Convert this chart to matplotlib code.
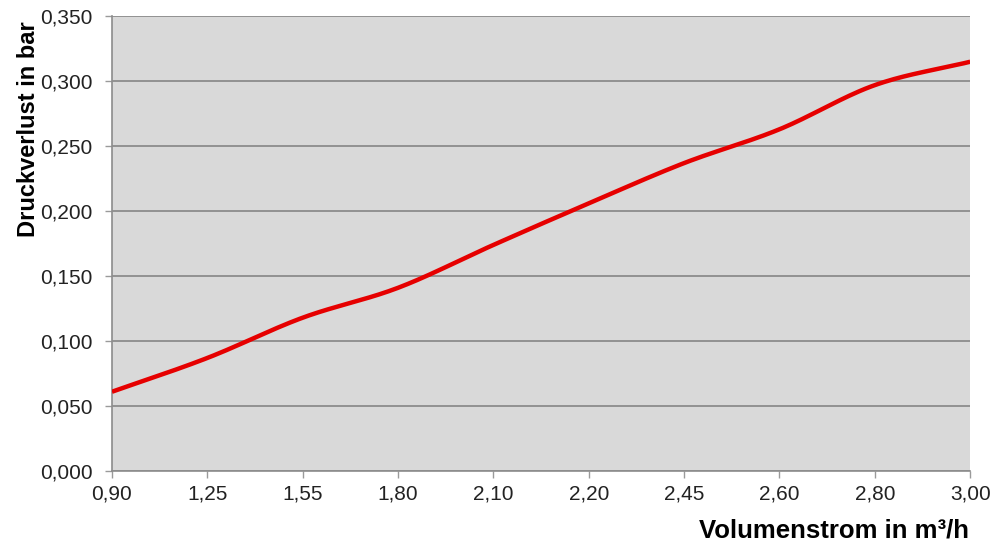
import numpy as np
import matplotlib
matplotlib.use("Agg")
from matplotlib import pyplot as plt

# Daten aus dem Diagramm (Volumenstrom als Kategorien)
kategorien = ["0,90", "1,25", "1,55", "1,80", "2,10", "2,20", "2,45", "2,60", "2,80", "3,00"]
druckverlust = [0.061, 0.087, 0.118, 0.141, 0.174, 0.206, 0.237, 0.263, 0.297, 0.315]
y_ticks = [0.0, 0.05, 0.10, 0.15, 0.20, 0.25, 0.30, 0.35]


def glatt(x, y, n=30):
    # Catmull-Rom Kurve wie die geglaettete Linie in Excel
    x = np.asarray(x, float)
    y = np.asarray(y, float)
    px = np.concatenate([[2 * x[0] - x[1]], x, [2 * x[-1] - x[-2]]])
    py = np.concatenate([[2 * y[0] - y[1]], y, [2 * y[-1] - y[-2]]])
    xs, ys = [], []
    t = np.linspace(0, 1, n, endpoint=False)
    for i in range(1, len(px) - 2):
        for p, out in ((px, xs), (py, ys)):
            p0, p1, p2, p3 = p[i - 1], p[i], p[i + 1], p[i + 2]
            out.extend(0.5 * (2 * p1 + (-p0 + p2) * t + (2 * p0 - 5 * p1 + 4 * p2 - p3) * t ** 2
                              + (-p0 + 3 * p1 - 3 * p2 + p3) * t ** 3))
    xs.append(x[-1])
    ys.append(y[-1])
    return np.array(xs), np.array(ys)


plt.rcParams["font.family"] = ["Liberation Sans", "DejaVu Sans"]

fig = plt.figure(figsize=(9.91, 5.42), dpi=100)
ax = fig.add_axes([0.113, 0.131, 0.866, 0.839])
ax.set_facecolor("#d9d9d9")

xpos = np.arange(len(kategorien))
gx, gy = glatt(xpos, druckverlust)
ax.plot(gx, gy, color="#e60000", lw=3.2, solid_capstyle="butt", zorder=3)

ax.set_xlim(0, len(kategorien) - 1)
ax.set_ylim(0, 0.35)
ax.set_xticks(xpos)
ax.set_xticklabels(kategorien)
ax.set_yticks(y_ticks)
ax.set_yticklabels([f"{v:.3f}".replace(".", ",") for v in y_ticks])
ax.tick_params(labelsize=15, labelcolor="#222222", length=5, width=1, color="#9a9a9a")
ax.tick_params(axis="x", pad=5)
ax.tick_params(axis="y", pad=9)

ax.grid(axis="y", color="#8c8c8c", lw=1.3)
ax.set_axisbelow(True)
for s in ["top", "right"]:
    ax.spines[s].set_visible(False)
for s in ["left", "bottom"]:
    ax.spines[s].set_color("#8c8c8c")
    ax.spines[s].set_linewidth(1.2)

fig.text(0.029, 0.762, "Druckverlust in bar", rotation=90, ha="center", va="center",
         fontsize=17, fontweight="bold")
fig.text(0.842, 0.009, "Volumenstrom in m³/h", ha="center", va="baseline",
         fontsize=18.5, fontweight="bold")

fig.savefig("out.png", dpi=100, facecolor="white")
